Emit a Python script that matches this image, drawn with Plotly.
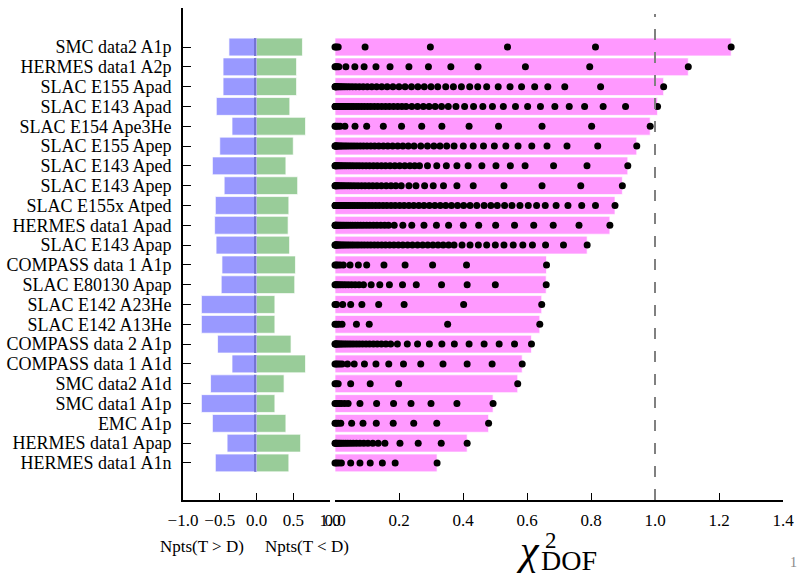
import plotly.graph_objects as go

categories = [
    "SMC data2 A1p", "HERMES data1 A2p", "SLAC E155 Apad", "SLAC E143 Apad",
    "SLAC E154 Ape3He", "SLAC E155 Apep", "SLAC E143 Aped", "SLAC E143 Apep",
    "SLAC E155x Atped", "HERMES data1 Apad", "SLAC E143 Apap", "COMPASS data 1 A1p",
    "SLAC E80130 Apap", "SLAC E142 A23He", "SLAC E142 A13He", "COMPASS data 2 A1p",
    "COMPASS data 1 A1d", "SMC data2 A1d", "SMC data1 A1p", "EMC A1p",
    "HERMES data1 Apap", "HERMES data1 A1n",
]

# fraction of points with theory > data (drawn negative) and theory < data
frac_T_gt_D = [0.375, 0.455, 0.455, 0.547, 0.333, 0.5, 0.6, 0.44, 0.56, 0.57, 0.55,
               0.47, 0.48, 0.75, 0.75, 0.53, 0.333, 0.625, 0.75, 0.6, 0.4, 0.56]
frac_T_lt_D = [0.625, 0.545, 0.545, 0.453, 0.667, 0.5, 0.4, 0.56, 0.44, 0.43, 0.45,
               0.53, 0.52, 0.25, 0.25, 0.47, 0.667, 0.375, 0.25, 0.4, 0.6, 0.44]

chi2_dof = [1.238, 1.104, 1.027, 1.008, 0.985, 0.943, 0.915, 0.898, 0.875, 0.859, 0.788,
            0.661, 0.66, 0.646, 0.640, 0.614, 0.585, 0.571, 0.494, 0.48, 0.413, 0.319]

# cumulative chi2 contributions (dots) for each data set
cum_points = [
    [0.0, 0.004, 0.01, 0.094, 0.298, 0.539, 0.814, 1.238],
    [0.0, 0.003, 0.007, 0.012, 0.034, 0.062, 0.091, 0.128, 0.172, 0.231, 0.292, 0.362,
     0.447, 0.595, 0.796, 1.104],
    [0.0, 0.001, 0.002, 0.004, 0.006, 0.009, 0.012, 0.016, 0.02, 0.025, 0.031, 0.038,
     0.046, 0.055, 0.065, 0.076, 0.088, 0.101, 0.115, 0.13, 0.146, 0.163, 0.181, 0.2,
     0.219, 0.239, 0.259, 0.279, 0.3, 0.321, 0.346, 0.370, 0.395, 0.421, 0.446, 0.474,
     0.510, 0.547, 0.583, 0.624, 0.665, 0.718, 0.830, 1.027],
    [0.0, 0.001, 0.002, 0.004, 0.006, 0.008, 0.011, 0.014, 0.018, 0.022, 0.027, 0.032,
     0.038, 0.044, 0.051, 0.058, 0.066, 0.074, 0.083, 0.092, 0.102, 0.112, 0.123, 0.134,
     0.146, 0.158, 0.17, 0.183, 0.196, 0.209, 0.222, 0.240, 0.258, 0.276, 0.294, 0.313,
     0.333, 0.354, 0.378, 0.405, 0.433, 0.462, 0.492, 0.526, 0.564, 0.602, 0.642, 0.687,
     0.732, 0.780, 0.838, 0.908, 1.008],
    [0.0, 0.003, 0.009, 0.016, 0.031, 0.0625, 0.099, 0.151, 0.208, 0.271, 0.334, 0.419,
     0.511, 0.647, 0.802, 0.985],
    [0.0, 0.001, 0.002, 0.004, 0.006, 0.009, 0.012, 0.016, 0.02, 0.025, 0.031, 0.037,
     0.044, 0.052, 0.06, 0.069, 0.079, 0.089, 0.1, 0.112, 0.124, 0.137, 0.151, 0.165,
     0.18, 0.196, 0.212, 0.229, 0.247, 0.268, 0.289, 0.309, 0.328, 0.349, 0.372, 0.401,
     0.432, 0.464, 0.498, 0.534, 0.572, 0.615, 0.6625, 0.725, 0.821, 0.943],
    [0.0, 0.001, 0.003, 0.005, 0.008, 0.011, 0.015, 0.019, 0.024, 0.03, 0.036, 0.043,
     0.05, 0.058, 0.067, 0.076, 0.086, 0.097, 0.108, 0.12, 0.132, 0.145, 0.158, 0.172,
     0.187, 0.202, 0.218, 0.234, 0.249, 0.264, 0.289, 0.318, 0.348, 0.381, 0.416, 0.459,
     0.503, 0.548, 0.594, 0.683, 0.7875, 0.915],
    [0.0, 0.001, 0.003, 0.005, 0.008, 0.011, 0.015, 0.02, 0.025, 0.031, 0.038, 0.045,
     0.053, 0.062, 0.072, 0.083, 0.094, 0.106, 0.118, 0.131, 0.145, 0.16, 0.175, 0.19,
     0.207, 0.231, 0.253, 0.280, 0.307, 0.339, 0.381, 0.432, 0.528, 0.647, 0.768, 0.898],
    [0.0, 0.001, 0.002, 0.003, 0.005, 0.007, 0.009, 0.012, 0.015, 0.018, 0.022, 0.026,
     0.031, 0.036, 0.042, 0.048, 0.055, 0.062, 0.07, 0.078, 0.087, 0.096, 0.106, 0.116,
     0.127, 0.138, 0.15, 0.162, 0.175, 0.188, 0.202, 0.216, 0.231, 0.246, 0.262, 0.278,
     0.295, 0.312, 0.329, 0.346, 0.364, 0.383, 0.402, 0.422, 0.443, 0.466, 0.487, 0.507,
     0.530, 0.553, 0.578, 0.604, 0.630, 0.657, 0.691, 0.728, 0.771, 0.814, 0.875],
    [0.0, 0.001, 0.003, 0.005, 0.008, 0.011, 0.015, 0.019, 0.024, 0.029, 0.035, 0.041,
     0.048, 0.055, 0.063, 0.071, 0.08, 0.089, 0.099, 0.109, 0.12, 0.131, 0.143, 0.155,
     0.167, 0.185, 0.212, 0.240, 0.278, 0.317, 0.355, 0.401, 0.449, 0.502, 0.561, 0.621,
     0.682, 0.7625, 0.859],
    [0.0, 0.001, 0.002, 0.004, 0.006, 0.008, 0.011, 0.014, 0.018, 0.022, 0.027, 0.032,
     0.038, 0.044, 0.051, 0.058, 0.066, 0.074, 0.083, 0.092, 0.102, 0.112, 0.123, 0.134,
     0.146, 0.158, 0.171, 0.184, 0.198, 0.212, 0.227, 0.242, 0.258, 0.274, 0.29, 0.306,
     0.322, 0.338, 0.355, 0.372, 0.397, 0.422, 0.448, 0.474, 0.501, 0.528, 0.557, 0.587,
     0.617, 0.658, 0.714, 0.788],
    [0.0, 0.004, 0.009, 0.016, 0.026, 0.047, 0.073, 0.099, 0.153, 0.219, 0.305, 0.411,
     0.661],
    [0.0, 0.003, 0.007, 0.012, 0.018, 0.025, 0.033, 0.042, 0.052, 0.063, 0.075, 0.089,
     0.113, 0.140, 0.170, 0.211, 0.254, 0.333, 0.413, 0.501, 0.66],
    [0.0, 0.005, 0.024, 0.049, 0.084, 0.1365, 0.216, 0.402, 0.646],
    [0.0, 0.005, 0.012, 0.022, 0.067, 0.107, 0.352, 0.640],
    [0.0, 0.001, 0.003, 0.005, 0.008, 0.011, 0.015, 0.019, 0.024, 0.03, 0.036, 0.043,
     0.05, 0.058, 0.067, 0.076, 0.086, 0.097, 0.108, 0.12, 0.132, 0.145, 0.159, 0.174,
     0.195, 0.226, 0.258, 0.295, 0.334, 0.373, 0.419, 0.466, 0.513, 0.561, 0.614],
    [0.0, 0.004, 0.009, 0.015, 0.022, 0.039, 0.060, 0.092, 0.128, 0.168, 0.214, 0.268,
     0.3375, 0.413, 0.491, 0.585],
    [0.0, 0.004, 0.01, 0.049, 0.110, 0.199, 0.571],
    [0.0, 0.006, 0.013, 0.02, 0.03, 0.041, 0.078, 0.130, 0.183, 0.2375, 0.300, 0.381,
     0.494],
    [0.0, 0.004, 0.01, 0.018, 0.052, 0.0875, 0.129, 0.182, 0.246, 0.318, 0.48],
    [0.0, 0.002, 0.004, 0.007, 0.011, 0.015, 0.02, 0.026, 0.033, 0.04, 0.048, 0.057,
     0.067, 0.078, 0.09, 0.103, 0.118, 0.135, 0.156, 0.203, 0.260, 0.332, 0.413],
    [0.0, 0.005, 0.012, 0.02, 0.049, 0.078, 0.110, 0.148, 0.188, 0.319],
]

left_ticks = [-1.0, -0.5, 0.0, 0.5, 1.0]
right_ticks = [0.0, 0.2, 0.4, 0.6, 0.8, 1.0, 1.2, 1.4]
chi2_reference = 1.0
zero_edge = [0.022] * len(categories)

FONT = "Liberation Serif"
W, H = 798, 573


def px_x(p):
    return p / W


def px_y(p):
    return 1 - p / H


fig = go.Figure()

fig.add_trace(go.Bar(
    y=categories, x=[-v for v in frac_T_gt_D], orientation="h", width=0.9,
    marker=dict(color="#9999ff", line=dict(color="rgba(255,255,255,0.7)", width=1)),
    xaxis="x", yaxis="y", showlegend=False))
fig.add_trace(go.Bar(
    y=categories, x=frac_T_lt_D, orientation="h", width=0.9,
    marker=dict(color="#99cc99", line=dict(color="rgba(255,255,255,0.7)", width=1)),
    xaxis="x", yaxis="y", showlegend=False))
fig.add_trace(go.Bar(
    y=categories, x=zero_edge, base=[-v for v in zero_edge], orientation="h", width=0.9,
    marker=dict(color="#7474d4", line=dict(width=0)),
    xaxis="x", yaxis="y", showlegend=False))

fig.add_trace(go.Bar(
    y=categories, x=chi2_dof, orientation="h", width=0.9,
    marker=dict(color="#ff99ff", line=dict(color="rgba(255,255,255,0.7)", width=1)),
    xaxis="x2", yaxis="y2", showlegend=False))

dot_x, dot_y = [], []
for cat, pts in zip(categories, cum_points):
    dot_x.extend(pts)
    dot_y.extend([cat] * len(pts))
fig.add_trace(go.Scatter(
    x=dot_x, y=dot_y, mode="markers",
    marker=dict(color="black", size=7, line=dict(width=0)),
    xaxis="x2", yaxis="y2", showlegend=False, cliponaxis=False))

ydom = [px_y(500), px_y(8)]
yrange = [22.87, -1.97]
tickfont = dict(family=FONT, size=17, color="black")

fig.update_layout(
    width=W, height=H, autosize=False,
    margin=dict(l=0, r=0, t=0, b=0, pad=0),
    paper_bgcolor="white", plot_bgcolor="white",
    barmode="overlay",
    xaxis=dict(domain=[px_x(183), px_x(330)], range=[-1.0, 1.0], anchor="y",
               tickmode="array", tickvals=left_ticks, tickformat=".1f",
               ticks="inside", ticklen=7,
               tickwidth=1, tickcolor="black", showline=True, linecolor="black",
               linewidth=1.5, showgrid=False, zeroline=False, tickfont=tickfont,
               ticklabelstandoff=4, automargin=False),
    yaxis=dict(domain=ydom, type="category", categoryorder="array",
               categoryarray=categories, tickmode="array", tickvals=categories,
               ticktext=categories, range=yrange, anchor="x",
               ticks="inside", ticklen=8, tickwidth=1, tickcolor="black",
               showline=True, linecolor="black", linewidth=2, showgrid=False,
               zeroline=False, tickfont=dict(family=FONT, size=18, color="black"),
               ticklabelstandoff=6, automargin=False),
    xaxis2=dict(domain=[px_x(335), px_x(783)], range=[0, 1.4], anchor="y2",
                tickmode="array", tickvals=right_ticks, tickformat=".1f",
                ticks="inside", ticklen=7,
                tickwidth=1, tickcolor="black", showline=True, linecolor="black",
                linewidth=1.5, showgrid=False, zeroline=False, tickfont=tickfont,
                ticklabelstandoff=4, automargin=False),
    yaxis2=dict(domain=ydom, type="category", categoryorder="array",
                categoryarray=categories, range=yrange, anchor="x2",
                showticklabels=False, ticks="", showline=False, showgrid=False,
                zeroline=False, automargin=False),
)

fig.add_shape(type="line", xref="x2", yref="y2 domain", x0=chi2_reference,
              x1=chi2_reference, y0=0, y1=0.988, layer="above",
              line=dict(color="#808080", width=2, dash="11px,12px"))

ann = [
    dict(text="Npts(T > D)", x=px_x(202), y=px_y(546), size=17),
    dict(text="Npts(T < D)", x=px_x(307), y=px_y(546), size=17),
    dict(text="<i>χ</i>", x=px_x(528), y=px_y(550), size=42),
    dict(text="2", x=px_x(551), y=px_y(540), size=23),
    dict(text="DOF", x=px_x(569), y=px_y(560), size=28),
]
for a in ann:
    fig.add_annotation(text=a["text"], x=a["x"], y=a["y"], xref="paper", yref="paper",
                       xanchor="center", yanchor="middle", showarrow=False,
                       font=dict(family=FONT, size=a["size"], color="black"))
fig.add_annotation(text="1", x=px_x(793), y=px_y(562), xref="paper", yref="paper",
                   xanchor="center", yanchor="middle", showarrow=False,
                   font=dict(family=FONT, size=14, color="#888888"))

fig.write_html("out.html")
